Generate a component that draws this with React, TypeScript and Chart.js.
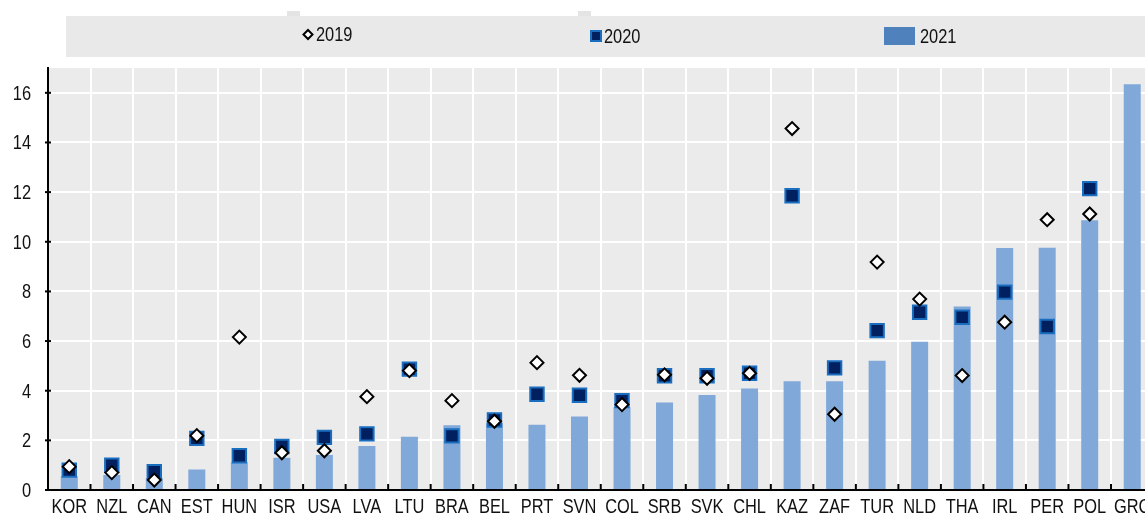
import { useEffect, useRef } from 'react';
import { Chart, registerables } from 'chart.js';
Chart.register(...registerables);

const categories = ['KOR', 'NZL', 'CAN', 'EST', 'HUN', 'ISR', 'USA', 'LVA', 'LTU', 'BRA', 'BEL', 'PRT', 'SVN', 'COL', 'SRB', 'SVK', 'CHL', 'KAZ', 'ZAF', 'TUR', 'NLD', 'THA', 'IRL', 'PER', 'POL', 'GRC'];
const values2021 = [0.55, 0.6, 0.48, 0.83, 1.12, 1.3, 1.41, 1.77, 2.15, 2.61, 2.7, 2.63, 2.96, 3.33, 3.52, 3.83, 4.09, 4.38, 4.38, 5.21, 5.97, 7.39, 9.75, 9.76, 10.87, 16.35];
const values2020 = [0.8, 1.0, 0.74, 2.08, 1.38, 1.75, 2.12, 2.26, 4.87, 2.18, 2.82, 3.86, 3.82, 3.6, 4.6, 4.6, 4.7, 11.85, 4.92, 6.42, 7.16, 6.96, 7.97, 6.59, 12.14, null];
const values2019 = [0.94, 0.7, 0.4, 2.19, 6.16, 1.5, 1.58, 3.76, 4.81, 3.6, 2.77, 5.13, 4.62, 3.44, 4.64, 4.5, 4.7, 14.56, 3.05, 9.18, 7.69, 4.61, 6.76, 10.89, 11.12, null];
const seriesLabels = ['2019', '2020', '2021'];

const FONT = "20px 'Liberation Sans', Arial, sans-serif";
const SX = 0.82; // horizontal condensing to mimic a narrow face
const TEXT = '#111';
const CANVAS_W = 1165;
const CANVAS_H = 514;

function narrowText(ctx: CanvasRenderingContext2D, s: string, x: number, y: number, align: 'left' | 'center' | 'right') {
  ctx.save();
  ctx.font = FONT;
  ctx.textBaseline = 'alphabetic';
  ctx.textAlign = align;
  ctx.translate(x, y);
  ctx.scale(SX, 1);
  ctx.fillText(s, 0, 0);
  ctx.restore();
}

export default function App() {
  const ref = useRef<HTMLCanvasElement>(null);
  useEffect(() => {
    if (!ref.current) return;
    const bgPlugin = {
      id: 'bgLegend',
      beforeDraw(chart: any) {
        const { ctx, chartArea } = chart;
        ctx.save();
        ctx.fillStyle = '#EBEBEB';
        ctx.fillRect(chartArea.left, chartArea.top, chartArea.right - chartArea.left, chartArea.bottom - chartArea.top);
        // legend box
        ctx.fillStyle = '#E9E9E9';
        ctx.fillRect(66, 16, chart.width - 66, 41);
        ctx.fillStyle = '#E4E4E4';
        ctx.fillRect(287, 11, 13, 5);
        ctx.fillRect(578, 11, 13, 5);
        // 2019 diamond
        ctx.beginPath();
        ctx.moveTo(308, 30);
        ctx.lineTo(312.5, 34.5);
        ctx.lineTo(308, 39);
        ctx.lineTo(303.5, 34.5);
        ctx.closePath();
        ctx.fillStyle = '#fff';
        ctx.fill();
        ctx.lineWidth = 2;
        ctx.strokeStyle = '#000';
        ctx.stroke();
        ctx.fillStyle = TEXT;
        narrowText(ctx, seriesLabels[0], 316, 41, 'left');
        // 2020 square
        ctx.fillStyle = '#002060';
        ctx.fillRect(591, 31, 10, 10);
        ctx.strokeStyle = '#1A6EC0';
        ctx.strokeRect(591, 31, 10, 10);
        ctx.fillStyle = TEXT;
        narrowText(ctx, seriesLabels[1], 604, 43, 'left');
        // 2021 bar
        ctx.fillStyle = '#4F81BD';
        ctx.fillRect(884, 27, 31, 18);
        ctx.fillStyle = TEXT;
        narrowText(ctx, seriesLabels[2], 920, 43, 'left');
        ctx.restore();
      },
      afterDatasetsDraw(chart: any) {
        const { ctx, chartArea, scales } = chart;
        ctx.save();
        ctx.strokeStyle = '#000';
        ctx.lineWidth = 2;
        const xs = scales.x;
        const n = categories.length;
        for (let i = 1; i < n; i++) {
          const x = (xs.getPixelForValue(i - 1) + xs.getPixelForValue(i)) / 2;
          ctx.beginPath();
          ctx.moveTo(x, chartArea.bottom);
          ctx.lineTo(x, chartArea.bottom - 6);
          ctx.stroke();
        }
        const ys = scales.y;
        ctx.fillStyle = TEXT;
        ys.ticks.forEach((t: any) => {
          const y = ys.getPixelForValue(t.value);
          ctx.beginPath();
          ctx.moveTo(chartArea.left - 3, y);
          ctx.lineTo(chartArea.left + 3, y);
          ctx.stroke();
          narrowText(ctx, String(t.value), 31, y + 7, 'right');
        });
        categories.forEach((c, i) => {
          narrowText(ctx, c, xs.getPixelForValue(i), chartArea.bottom + 23, 'center');
        });
        ctx.restore();
      },
    };
    const chart = new Chart(ref.current, {
      type: 'bar',
      data: {
        labels: categories,
        datasets: [
          {
            type: 'line',
            label: seriesLabels[0],
            data: values2019,
            showLine: false,
            pointStyle: 'rectRot',
            pointRadius: 6.5,
            pointBackgroundColor: '#FFFFFF',
            pointBorderColor: '#000000',
            pointBorderWidth: 2,
          } as any,
          {
            type: 'line',
            label: seriesLabels[1],
            data: values2020,
            showLine: false,
            pointStyle: 'rect',
            pointRadius: 9.5,
            pointBackgroundColor: '#002060',
            pointBorderColor: '#1A6EC0',
            pointBorderWidth: 2,
          } as any,
          {
            type: 'bar',
            label: seriesLabels[2],
            data: values2021,
            backgroundColor: '#80A8D9',
            barPercentage: 0.4,
            categoryPercentage: 1.0,
          },
        ],
      },
      options: {
        animation: false,
        responsive: false,
        maintainAspectRatio: false,
        devicePixelRatio: 1,
        events: [],
        layout: { padding: { top: 68, left: 0, right: 0, bottom: 0 } },
        plugins: { legend: { display: false }, tooltip: { enabled: false } },
        scales: {
          x: {
            offset: true,
            grid: { offset: true, color: '#FFFFFF', lineWidth: 2, drawTicks: false },
            border: { display: true, color: '#000', width: 2 },
            ticks: { display: false, autoSkip: false },
            afterFit: (s: any) => { s.height = 24; },
          },
          y: {
            min: 0,
            max: 17,
            grid: { color: '#FFFFFF', lineWidth: 2, drawTicks: false },
            border: { display: true, color: '#000', width: 2 },
            ticks: { stepSize: 2, includeBounds: false, display: false },
            afterFit: (s: any) => { s.width = 48; },
          },
        },
      },
      plugins: [bgPlugin],
    });
    return () => chart.destroy();
  }, []);
  return (
    <div style={{ position: 'fixed', left: 0, top: 0, width: 1145, height: 514, overflow: 'hidden', background: '#fff' }}>
      <canvas ref={ref} width={CANVAS_W} height={CANVAS_H} style={{ display: 'block', width: CANVAS_W, height: CANVAS_H }} />
    </div>
  );
}
